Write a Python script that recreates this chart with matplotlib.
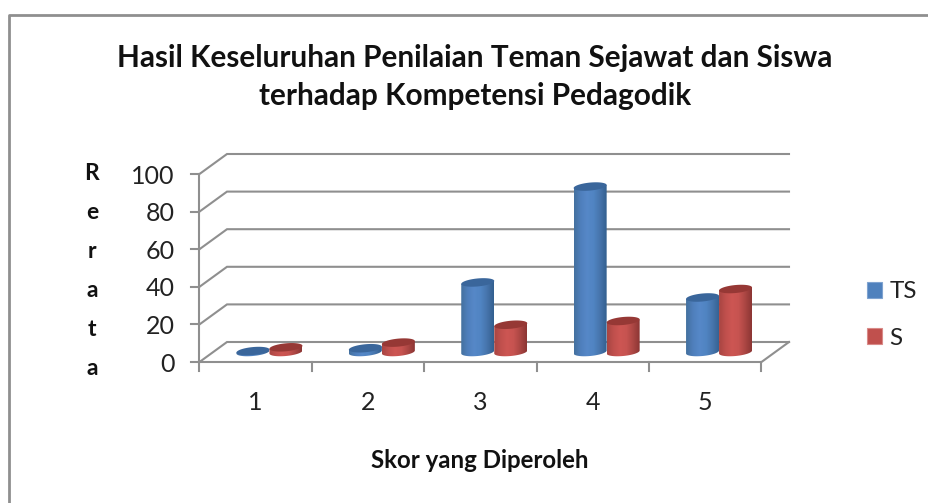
import matplotlib
matplotlib.use('Agg')
import matplotlib.pyplot as plt
import numpy as np
from matplotlib.colors import LinearSegmentedColormap
from matplotlib.lines import Line2D
from matplotlib.patches import PathPatch, Patch
from matplotlib.path import Path

plt.rcParams['font.family'] = ['Lato', 'DejaVu Sans']

# Data
categories = ['1', '2', '3', '4', '5']
ts_values = [0.5, 2, 37, 88, 29]
s_values = [2.5, 5, 14.5, 16.5, 33.5]
y_ticks = [0, 20, 40, 60, 80, 100]

W, H = 929, 503
GREY = '#8f8f8f'

# front plane of the fake 3D box, in pixels
left, right, bottom, top = 199.5, 761.5, 362, 174
px_x = (right - left) / len(categories)
px_y = (bottom - top) / 100

# depth of the box and cylinder shape, in data units
depth_x = 27.5 / px_x
depth_y = 20 / px_y
bar_w = 33 / px_x
ell_h = 4 / px_y
tilt = 3 / px_y

blue_cmap = LinearSegmentedColormap.from_list('b', ['#44719f', '#4f7fbc', '#5688c8', '#5084c2', '#4674ab', '#33608f'])
red_cmap = LinearSegmentedColormap.from_list('r', ['#a84542', '#c0504d', '#cd5653', '#c65350', '#ab4643', '#8c3634'])
BLUE_TOP, RED_TOP = '#3a669b', '#963835'

fig = plt.figure(figsize=(W / 100, H / 100), dpi=100)
ax = fig.add_axes([left / W, 1 - bottom / H, (right - left) / W, (bottom - top) / H])
ax.patch.set_visible(False)
for s in ax.spines.values():
    s.set_visible(False)


def cylinder(x0, value, cmap, top_color):
    # x0 is the left edge of the cylinder, base sits halfway into the box depth
    base = depth_y * 0.5
    t = np.linspace(0, 2 * np.pi, 80)
    ex = np.cos(t) * bar_w / 2
    ey = np.sin(t) * ell_h + np.cos(t) * tilt * 0.5
    cx = x0 + bar_w / 2

    # body outline: lower half of the base ellipse, up to the top ellipse
    low = np.linspace(np.pi, 2 * np.pi, 40)
    bx = cx + np.cos(low) * bar_w / 2
    by = base + np.sin(low) * ell_h + np.cos(low) * tilt * 0.5
    verts = list(zip(bx, by)) + [(x0 + bar_w, base + value + tilt * 0.5), (x0, base + value - tilt * 0.5)]
    body = PathPatch(Path(verts + [verts[0]]), fc='none', ec='none', transform=ax.transData)
    ax.add_patch(body)
    im = ax.imshow(np.linspace(0, 1, 64).reshape(1, -1), cmap=cmap, aspect='auto', zorder=3,
                   extent=[x0, x0 + bar_w, base - ell_h * 3, base + value + ell_h * 3])
    im.set_clip_path(body)
    ax.fill(cx + ex, base + value + ey, color=top_color, lw=0, zorder=3.5)


# back wall gridlines and side wall
for v in y_ticks:
    ax.plot([0, depth_x, len(categories) + depth_x], [v, v + depth_y, v + depth_y],
            color=GREY, lw=1.5, clip_on=False, zorder=1, solid_joinstyle='miter')
    ax.plot([-8 / px_x, 0], [v, v], color=GREY, lw=1.5, clip_on=False, zorder=2)
ax.plot([0, 0], [0, 100], color=GREY, lw=1.5, clip_on=False, zorder=2)

# floor front edge, right edge, x ticks
ax.plot([0, len(categories), len(categories) + depth_x], [0, 0, depth_y],
        color=GREY, lw=1.5, clip_on=False, zorder=2)
for i in range(len(categories) + 1):
    ax.plot([i, i], [0, -9 / px_y], color=GREY, lw=1.5, clip_on=False, zorder=2)

# cylinders, drawn left to right
offset = (depth_x * 0.5) + 0.5 - bar_w
for i in range(len(categories)):
    cylinder(i + offset, ts_values[i], blue_cmap, BLUE_TOP)
    cylinder(i + offset + bar_w, s_values[i], red_cmap, RED_TOP)

ax.set_xlim(0, len(categories))
ax.set_ylim(0, 100)
ax.set_xticks(np.arange(len(categories)) + 0.5, categories)
ax.set_yticks(y_ticks, [str(v) for v in y_ticks])
ax.tick_params(axis='both', length=0, labelsize=18, labelcolor='#222222')
ax.tick_params(axis='x', pad=21)
ax.tick_params(axis='y', pad=18)

# title and axis titles
fig.text(475 / W, 1 - 77 / H, 'Hasil Keseluruhan Penilaian Teman Sejawat dan Siswa\nterhadap Kompetensi Pedagodik',
         ha='center', va='center', fontsize=21.4, fontweight='bold', color='#111111', linespacing=1.43)
fig.text(480 / W, 1 - 460 / H, 'Skor yang Diperoleh', ha='center', va='center',
         fontsize=17.3, fontweight='bold', color='#111111')
fig.text(92 / W, 1 - 271 / H, 'R\ne\nr\na\nt\na', ha='center', va='center',
         fontsize=16.5, fontweight='bold', color='#111111', linespacing=2.07)

# legend
handles = [Patch(fc='#4f81bd', ec='#7fa3d0', lw=0.8, label='TS'),
           Patch(fc='#c0504d', ec='#d98a88', lw=0.8, label='S')]
fig.legend(handles=handles, loc='center left', bbox_to_anchor=(867 / W, 1 - 315 / H), frameon=False,
           fontsize=17.5, handlelength=0.62, handleheight=0.62, handletextpad=0.3,
           labelspacing=1.05, labelcolor='#222222', borderpad=0, borderaxespad=0)

# the outer chart frame, only its top and left edges show
fig.add_artist(Line2D([8.5 / W, 8.5 / W, 1], [0, 1 - 14.5 / H, 1 - 14.5 / H], color=GREY, lw=2))

fig.savefig('out.png', dpi=100)
